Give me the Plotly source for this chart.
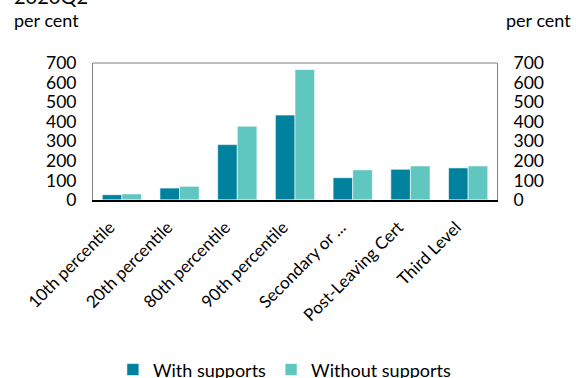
import plotly.graph_objects as go

# income distribution / education categories
categories = ["10th percentile", "20th percentile", "80th percentile", "90th percentile",
              "Secondary or ...", "Post-Leaving Cert", "Third Level"]
with_supports = [27, 61, 283, 434, 114, 157, 164]
without_supports = [31, 70, 377, 667, 154, 174, 174]
y_ticks = [0, 100, 200, 300, 400, 500, 600, 700]

font_name = "Lato"

fig = go.Figure()
fig.add_trace(go.Bar(x=categories, y=with_supports, name="With supports",
                     marker=dict(color="#00829E", line=dict(color="white", width=0.6))))
fig.add_trace(go.Bar(x=categories, y=without_supports, name="Without supports",
                     marker=dict(color="#5FC6C0", line=dict(color="white", width=0.6))))
# invisible trace so the right axis shows
fig.add_trace(go.Bar(x=categories, y=[0] * len(categories), yaxis="y2",
                     showlegend=False, hoverinfo="skip", marker_color="rgba(0,0,0,0)"))

fig.update_layout(
    width=576, height=378,
    margin=dict(l=93, r=79, t=63, b=178, autoexpand=False),
    plot_bgcolor="white", paper_bgcolor="white",
    font=dict(family=font_name, size=18, color="black"),
    barmode="group", bargap=0.32, bargroupgap=0,
    showlegend=True,
    legend=dict(orientation="h", x=0.475, xanchor="center", y=-1.24, yanchor="middle",
                font=dict(size=18), itemwidth=30, tracegroupgap=0),
    xaxis=dict(tickangle=-45, showline=True, linecolor="black", linewidth=1.5,
               ticks="", automargin=False, ticklabelstandoff=9, ticklabelshift=-12,
               tickfont=dict(size=17)),
    yaxis=dict(range=[0, 700], tickvals=y_ticks, showgrid=False, zeroline=False,
               showline=True, linecolor="#808080", linewidth=1, ticks="",
               automargin=False, ticklabelstandoff=12, tickfont=dict(size=17.5)),
    yaxis2=dict(range=[0, 700], tickvals=y_ticks, overlaying="y", side="right",
                showgrid=False, zeroline=False, showline=True, linecolor="#808080",
                linewidth=1, ticks="", automargin=False, ticklabelstandoff=12,
                tickfont=dict(size=17.5)),
)

# top border of the plot frame
fig.add_shape(type="line", xref="paper", yref="paper", x0=0, x1=1, y0=1, y1=1,
              line=dict(color="#808080", width=1))

fig.add_annotation(text="2020Q2", xref="paper", yref="paper", x=-0.2, y=1.39,
                   xanchor="left", yanchor="bottom", showarrow=False,
                   font=dict(size=20))
fig.add_annotation(text="per cent", xref="paper", yref="paper", x=-0.2, y=1.314,
                   xanchor="left", yanchor="middle", showarrow=False,
                   font=dict(size=18))
fig.add_annotation(text="per cent", xref="paper", yref="paper", x=1.017, y=1.314,
                   xanchor="left", yanchor="middle", showarrow=False,
                   font=dict(size=18))

# drop the default page margin so the figure sits at the window corner
fig.write_html("out.html", config={"displayModeBar": False},
               post_script="document.body.style.margin='0';")
